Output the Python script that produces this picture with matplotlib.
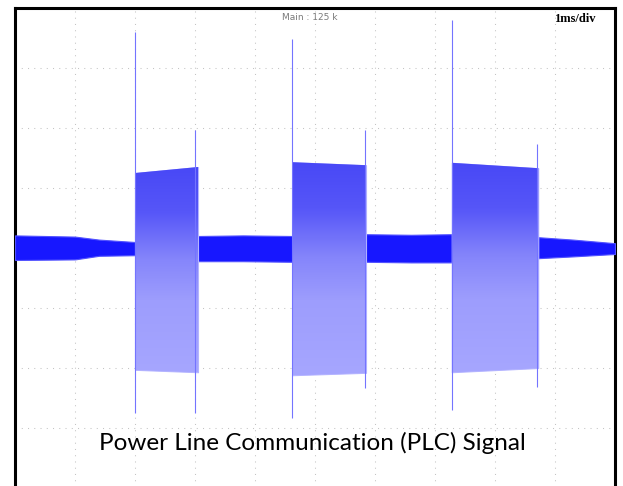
import numpy as np
import matplotlib
matplotlib.use("Agg")
import matplotlib.pyplot as plt
from matplotlib.colors import LinearSegmentedColormap

# --- DATA (x in ms, y in divisions) ---
# quiet stretches between bursts: time points, upper and lower envelope
idle_t = [
    [0.0, 1.0, 1.4, 2.0],
    [3.05, 3.8, 4.62],
    [5.85, 6.6, 7.28],
    [8.72, 9.3, 10.0],
]
idle_hi = [
    [0.21, 0.19, 0.14, 0.10],
    [0.20, 0.21, 0.20],
    [0.23, 0.22, 0.23],
    [0.18, 0.14, 0.08],
]
idle_lo = [
    [-0.20, -0.19, -0.13, -0.12],
    [-0.22, -0.22, -0.23],
    [-0.23, -0.24, -0.24],
    [-0.17, -0.14, -0.10],
]

# PLC bursts: start / end time and envelope at both ends
burst_t0 = [2.0, 4.62, 7.28]
burst_t1 = [3.05, 5.85, 8.72]
burst_hi0 = [1.25, 1.43, 1.42]
burst_hi1 = [1.35, 1.38, 1.33]
burst_lo0 = [-2.03, -2.12, -2.07]
burst_lo1 = [-2.07, -2.08, -2.00]

# transient spikes at the burst edges
spike_t = [2.0, 3.0, 4.62, 5.83, 7.29, 8.70]
spike_top = [3.60, 1.97, 3.48, 1.97, 3.80, 1.73]
spike_bot = [-2.75, -2.75, -2.83, -2.33, -2.70, -2.32]

# --- STYLE ---
idle_color = "#1717ff"
spike_color = "#7474ff"
grid_color = "#c4c4c4"
burst_cmap = LinearSegmentedColormap.from_list(
    "burst", [(0.0, "#4848f6"), (0.22, "#5656f8"), (0.45, "#8585fb"),
              (0.65, "#9d9dfd"), (1.0, "#a6a6ff")])

fig = plt.figure(figsize=(6.23, 4.86), dpi=100)
ax = fig.add_axes([15 / 623, -2 / 486, 600 / 623, 480 / 486])
ax.set_xlim(0, 10)
ax.set_ylim(-4, 4)

ax.set_xticks(np.arange(1, 10))
ax.set_yticks(np.arange(-3, 4))
ax.tick_params(length=0, labelbottom=False, labelleft=False)
ax.grid(True, color=grid_color, linestyle=(0, (1, 5)), linewidth=0.75)
ax.set_axisbelow(True)

for side in ["left", "top", "right"]:
    ax.spines[side].set_linewidth(2.2)
    ax.spines[side].set_color("black")
ax.spines["bottom"].set_visible(False)

# quiet parts
for t, hi, lo in zip(idle_t, idle_hi, idle_lo):
    ax.fill_between(t, lo, hi, color=idle_color, linewidth=0.8,
                    edgecolor="#5252ff", zorder=3)

# bursts, shaded with a vertical gradient clipped to the envelope
for t0, t1, h0, h1, l0, l1 in zip(burst_t0, burst_t1, burst_hi0,
                                  burst_hi1, burst_lo0, burst_lo1):
    poly = ax.fill_between([t0, t1], [l0, l1], [h0, h1], color="#a6a6ff",
                           linewidth=0.8, edgecolor="#b4b4ff", zorder=3)
    top = max(h0, h1)
    bot = min(l0, l1)
    grad = np.linspace(0, 1, 256).reshape(-1, 1)
    im = ax.imshow(grad, cmap=burst_cmap, aspect="auto",
                   extent=[t0, t1, bot, top], origin="upper", zorder=4)
    im.set_clip_path(poly.get_paths()[0], transform=ax.transData)

ax.vlines(spike_t, spike_bot, spike_top, color=spike_color,
          linewidth=0.8, zorder=5)

ax.set_xlim(0, 10)
ax.set_ylim(-4, 4)

# --- TEXT ---
fig.text(310 / 623, 1 - 17 / 486, "Main : 125 k", ha="center", va="center",
         fontsize=6.5, color="#7a7a7a")
fig.text(575 / 623, 1 - 19 / 486, "1ms/div", ha="center", va="center",
         fontsize=9, fontweight="bold", family="Liberation Serif")
fig.text(312 / 623, 1 - 443 / 486, "Power Line Communication (PLC) Signal",
         ha="center", va="center", fontsize=17.5, family="Lato")

fig.savefig("out.png", dpi=100)
